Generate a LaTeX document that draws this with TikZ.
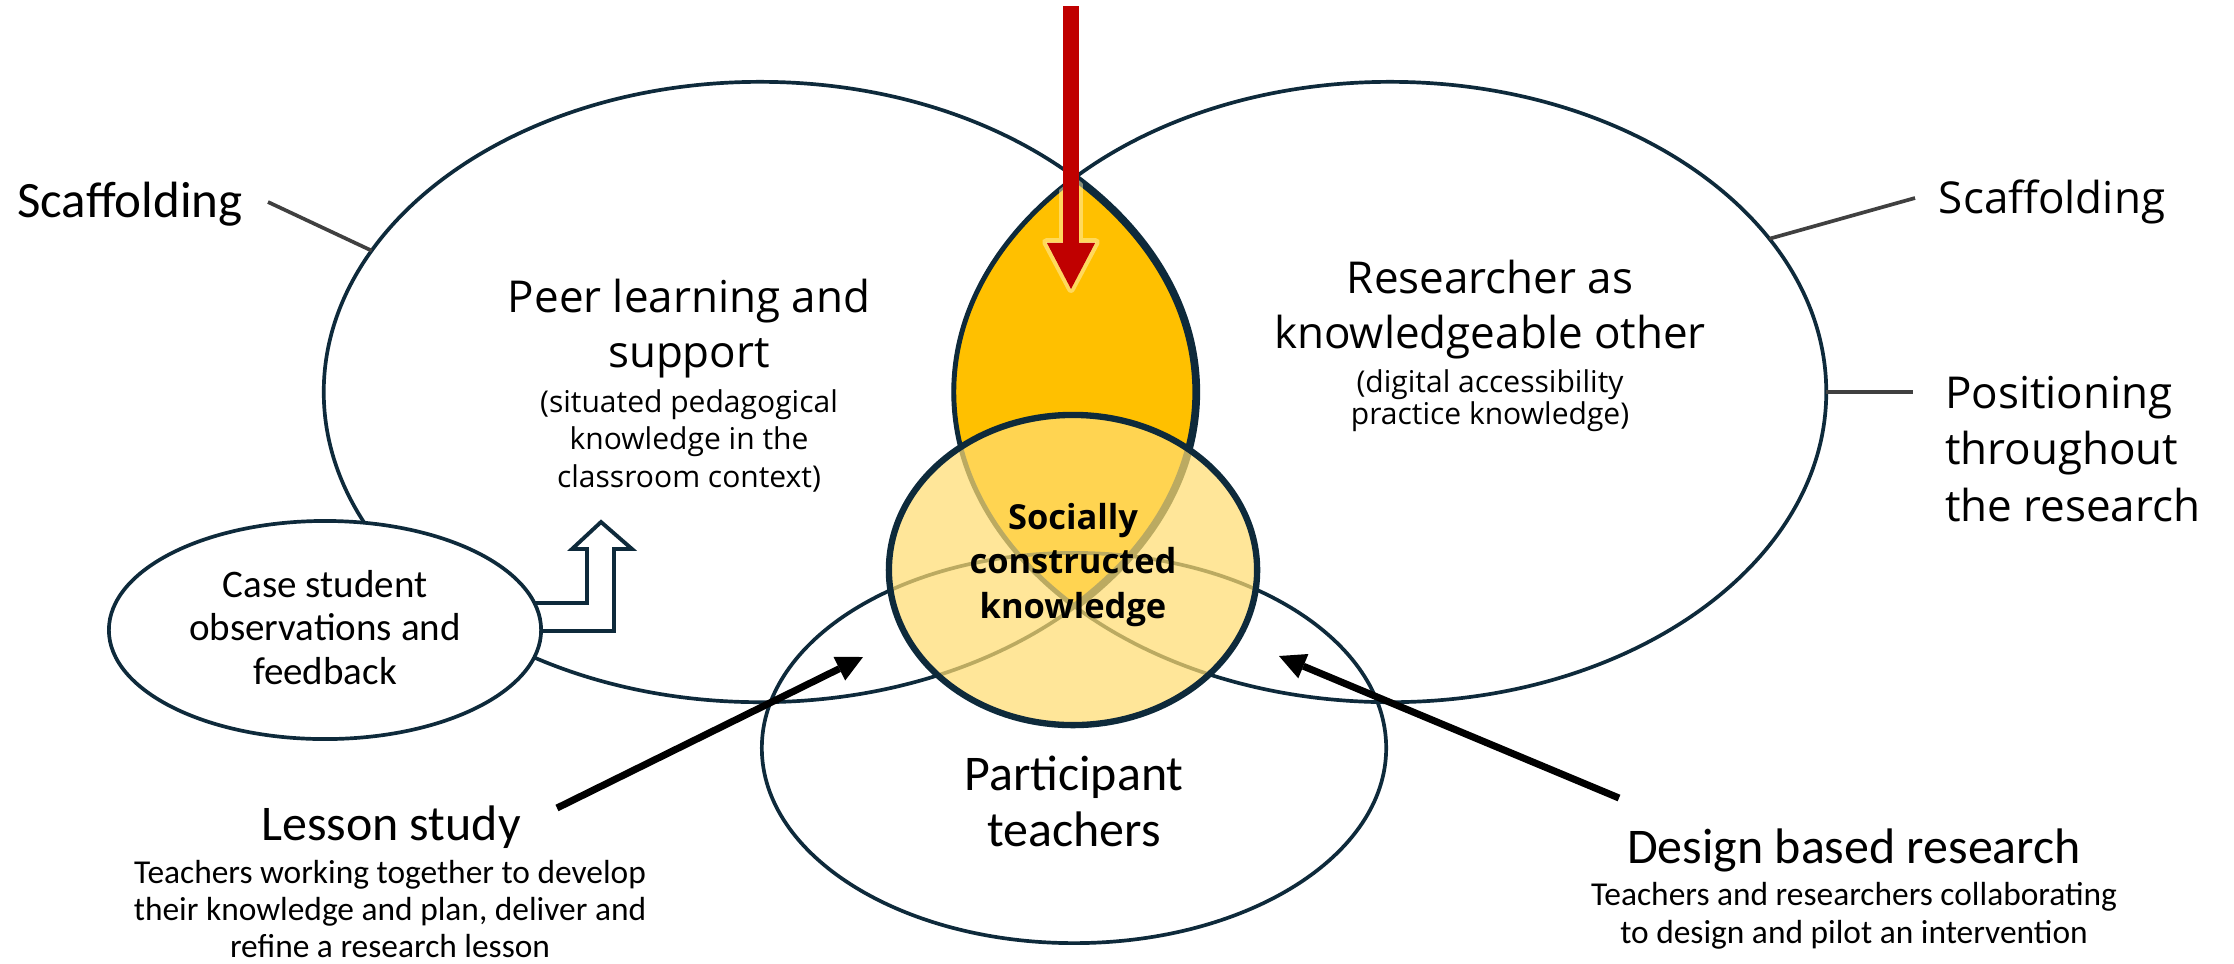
\documentclass[tikz,border=0pt]{standalone}
\usepackage{fontspec}
\setmainfont{Open Sans}
\newfontfamily\narrowfont{Carlito}
\usetikzlibrary{shapes.geometric,arrows.meta}

\definecolor{navy}{HTML}{0E2A3B}
\definecolor{gold}{HTML}{FFC000}
\definecolor{circfill}{HTML}{FFDC71}
\definecolor{glowcol}{HTML}{FFF2B8}
\definecolor{darkred}{HTML}{C00000}
\definecolor{leadgray}{HTML}{404040}

% font size and line distance in one go
\newcommand{\txtpx}[2]{\fontsize{#1}{#2}\selectfont}
% centred / left stacks whose baseline is the first line
\newcommand{\cstack}[1]{\begin{tabular}[t]{@{}c@{}}#1\end{tabular}}
\newcommand{\lstack}[1]{\begin{tabular}[t]{@{}l@{}}#1\end{tabular}}

\begin{document}
\begin{tikzpicture}[x=0.01cm, y=-0.01cm,
  venn/.style={ellipse, draw=navy, line width=1.05pt, inner sep=0pt, outer sep=0pt},
  lbl/.style={inner sep=0pt, outer sep=0pt, anchor=base, text=black},
  lead/.style={draw=leadgray, line width=1.05pt},
  pointer/.style={line width=2pt,
    -{Triangle[length=7.5pt, width=7.5pt, line width=0pt]}},
  bigtxt/.style={font=\txtpx{12.5pt}{15.9pt}},
  smalltxt/.style={font=\txtpx{8.54pt}{10.8pt}},
  narrowbig/.style={font=\narrowfont\txtpx{14.2pt}{16.2pt}},
  narrowsmall/.style={font=\narrowfont\txtpx{9.5pt}{10.6pt}},
]
\useasboundingbox (0,0) rectangle (2234,963);

% ---- gold lens shared by the two large circles
\begin{scope}
  \clip (760,392) ellipse [x radius=4.36cm, y radius=3.1cm];
  \fill[gold] (1390,392) ellipse [x radius=4.36cm, y radius=3.1cm];
  \draw[navy, line width=1.4pt] (1390,392) ellipse [x radius=4.36cm, y radius=3.1cm];
\end{scope}
\begin{scope}
  \clip (1390,392) ellipse [x radius=4.36cm, y radius=3.1cm];
  \draw[navy, line width=2.2pt] (760,392) ellipse [x radius=4.36cm, y radius=3.1cm];
\end{scope}

% ---- the three large ellipses
\node[venn, minimum width=8.72cm, minimum height=6.2cm] (peer) at (760,392) {};
\node[venn, minimum width=8.72cm, minimum height=6.2cm] (researcher) at (1390,392) {};
\node[venn, minimum width=6.24cm, minimum height=3.9cm] (teachers) at (1074,748) {};

% ---- red arrow into the lens, with a soft halo inside the gold
\begin{scope}
  \clip (760,392) ellipse [x radius=4.36cm, y radius=3.1cm];
  \clip (1390,392) ellipse [x radius=4.36cm, y radius=3.1cm];
  \filldraw[fill=glowcol, draw=glowcol, line width=2.2pt, line join=round, opacity=0.5]
    (1063,150) -- (1079,150) -- (1079,242) -- (1096,242) -- (1071,289)
    -- (1046,242) -- (1063,242) -- cycle;
\end{scope}
\coordinate (redtail) at (1071,6);
\coordinate (redtip) at (1071,289);
\draw[darkred, line width=4.55pt,
  -{Triangle[length=13.1pt, width=13.7pt, line width=0pt]}] (redtail) -- (redtip);

% ---- central knowledge circle
\node[ellipse, inner sep=0pt, minimum width=3.68cm, minimum height=3.1cm,
  fill=circfill, fill opacity=0.72, draw=navy, draw opacity=1, line width=1.8pt]
  (social) at (1073,570) {};
\node[lbl, font=\bfseries\txtpx{9.8pt}{12.66pt}] (socialtxt) at (1073,529)
  {\cstack{Socially\\constructed\\knowledge}};

% ---- labels of the large ellipses
\node[lbl, bigtxt] (peertitle) at (689,312) {\cstack{Peer learning and\\support}};
\node[lbl, smalltxt] (peernote) at (689,412)
  {\cstack{(situated pedagogical\\knowledge in the\\classroom context)}};
\node[lbl, bigtxt] (restitle) at (1490,293) {\cstack{Researcher as\\knowledgeable other}};
\node[lbl, font=\txtpx{8.54pt}{8.96pt}] (resnote) at (1490,392)
  {\cstack{(digital accessibility\\practice knowledge)}};
\node[lbl, narrowbig] (teachtxt) at (1074,790) {\cstack{Participant\\teachers}};

% ---- scaffolding and positioning leaders
\node[lbl, font=\narrowfont\txtpx{14.5pt}{17pt}] (scafL) at (130,217) {Scaffolding};
\coordinate (scafLend) at (268,202);
\draw[lead] (scafLend) -- (peer.160.4);

\node[lbl, bigtxt] (scafR) at (2052,213) {Scaffolding};
\coordinate (scafRend) at (1915,198);
\draw[lead] (researcher.22.9) -- (scafRend);

\node[lbl, anchor=base west, font=\txtpx{12.5pt}{16.2pt}] (position) at (1945,408)
  {\lstack{Positioning\\throughout\\the research}};
\coordinate (posend) at (1913,392);
\draw[lead] (researcher.east) -- (posend);

% ---- hollow bent arrow from the observations ellipse
\draw[navy, fill=white, line width=1.1pt, line join=miter]
  (500,603) -- (587,603) -- (587,549) -- (572,549) -- (601,522)
  -- (632,549) -- (614,549) -- (614,631) -- (500,631) -- cycle;
\node[venn, fill=white, minimum width=4.32cm, minimum height=2.18cm] (case) at (325,630) {};
\node[lbl, font=\narrowfont\txtpx{11.1pt}{12.5pt}] (casetxt) at (325,597)
  {\cstack{Case student\\observations and\\feedback}};

% ---- the two research approaches
\coordinate (lsTail) at (557,808);
\coordinate (lsTip) at (863,657);
\draw[pointer] (lsTail) -- (lsTip);
\node[lbl, narrowbig] (lesson) at (391,840) {Lesson study};
\node[lbl, narrowsmall] (lessonnote) at (390,883)
  {\cstack{Teachers working together to develop\\their knowledge and plan, deliver and\\refine a research lesson}};

\coordinate (dbTail) at (1619,798);
\coordinate (dbTip) at (1279,656);
\draw[pointer] (dbTail) -- (dbTip);
\node[lbl, narrowbig] (design) at (1854,863) {Design based research};
\node[lbl, font=\narrowfont\txtpx{9.5pt}{10.8pt}] (designnote) at (1854,905)
  {\cstack{Teachers and researchers collaborating\\to design and pilot an intervention}};
\end{tikzpicture}
\end{document}
